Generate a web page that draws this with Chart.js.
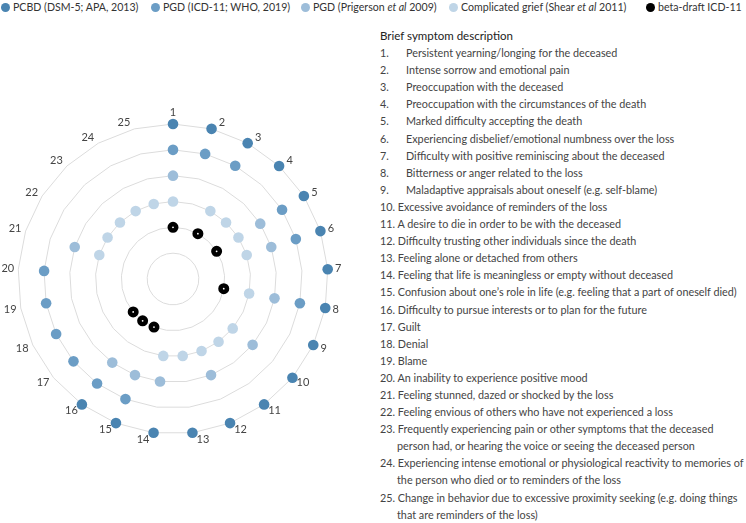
<!DOCTYPE html>
<html>
<head>
<meta charset="utf-8">
<script src="https://cdn.jsdelivr.net/npm/chart.js@4"></script>
<style>
    body { margin: 0; width: 746px; height: 523px; background: #fff; position: relative; overflow: hidden;
           font-family: "Lato", "Open Sans", sans-serif; color: #444; }
    .legend-item { position: absolute; top: 0; font-size: 10.6px; line-height: 15px; white-space: nowrap; color: #333; }
    .legend-item .dot { position: absolute; left: -12.5px; top: 3px; width: 9px; height: 9px; border-radius: 50%; }
    #chartBox { position: absolute; left: 0; top: 99px; width: 346px; height: 360px; }
    #desc { position: absolute; left: 380px; top: 27px; font-size: 10.8px; line-height: 17.1px; white-space: nowrap; }
    #desc h4 { margin: 0; font-weight: normal; font-size: 11.5px; color: #222; }
    #desc div { padding-left: 17px; text-indent: -17px; }
    #desc .n1 { display: inline-block; width: 26px; text-indent: 0; }
</style>
</head>
<body>
<div class="legend-item" style="left:13px"><span class="dot" style="background:#4a84b1"></span>PCBD (DSM-5; APA, 2013)</div>
<div class="legend-item" style="left:163px"><span class="dot" style="background:#6b9dc5"></span>PGD (ICD-11; WHO, 2019)</div>
<div class="legend-item" style="left:313px"><span class="dot" style="background:#9dbdd9"></span>PGD (Prigerson <i>et al</i> 2009)</div>
<div class="legend-item" style="left:461px"><span class="dot" style="background:#bfd5e7"></span>Complicated grief (Shear <i>et al</i> 2011)</div>
<div class="legend-item" style="left:658px"><span class="dot" style="background:#000"></span>beta-draft ICD-11</div>

<div id="chartBox"><canvas id="symptomChart"></canvas></div>
<div id="desc"><h4>Brief symptom description</h4></div>

<script>
const symptoms = ["1", "2", "3", "4", "5", "6", "7", "8", "9", "10", "11", "12", "13",
    "14", "15", "16", "17", "18", "19", "20", "21", "22", "23", "24", "25"];

// ring level of each criteria set, null = symptom not included
const pcbd      = [6, 6, 6, 6, 6, 6, 6, 6, 6, 6, 6, 6, 6, 6, 6, 6, null, null, null, null, null, null, null, null, null];
const pgdIcd11  = [5, 5, 5, null, 5, 5, null, 5, null, null, null, null, null, null, 5, 5, 5, 5, 5, 5, null, null, null, null, null];
const pgdPrig   = [4, null, null, null, 4, 4, null, 4, null, 4, null, 4, null, 4, 4, 4, null, null, null, null, 4, null, null, null, null];
const compGrief = [3, null, 3, 3, 3, 3, null, 3, null, 3, 3, 3, 3, 3, null, null, null, null, null, null, 3, 3, 3, 3, 3];
const betaDraft = [2, null, 2, null, 2, null, null, 2, null, null, null, null, null, null, 2, 2, 2, null, null, null, null, null, null, null, null];

const descriptions = [
    "Persistent yearning/longing for the deceased",
    "Intense sorrow and emotional pain",
    "Preoccupation with the deceased",
    "Preoccupation with the circumstances of the death",
    "Marked difficulty accepting the death",
    "Experiencing disbelief/emotional numbness over the loss",
    "Difficulty with positive reminiscing about the deceased",
    "Bitterness or anger related to the loss",
    "Maladaptive appraisals about oneself (e.g. self-blame)",
    "Excessive avoidance of reminders of the loss",
    "A desire to die in order to be with the deceased",
    "Difficulty trusting other individuals since the death",
    "Feeling alone or detached from others",
    "Feeling that life is meaningless or empty without deceased",
    "Confusion about one\u2019s role in life (e.g. feeling that a part of oneself died)",
    "Difficulty to pursue interests or to plan for the future",
    "Guilt",
    "Denial",
    "Blame",
    "An inability to experience positive mood",
    "Feeling stunned, dazed or shocked by the loss",
    "Feeling envious of others who have not experienced a loss",
    "Frequently experiencing pain or other symptoms that the deceased<br>person had, or hearing the voice or seeing the deceased person",
    "Experiencing intense emotional or physiological reactivity to memories of<br>the person who died or to reminders of the loss",
    "Change in behavior due to excessive proximity seeking (e.g. doing things<br>that are reminders of the loss)"
];

// symptom numbers sit beside the outer ring spoke, pushed sideways
const numberLabels = {
    id: "numberLabels",
    afterDraw(chart) {
        const r = chart.scales.r;
        const c = chart.ctx;
        c.save();
        c.font = "11px Lato";
        c.fillStyle = "#444";
        c.textAlign = "center";
        c.textBaseline = "middle";
        chart.data.labels.forEach(function (label, i) {
            const p = r.getPointPosition(i, r.drawingArea);
            const a = r.getIndexAngle(i);
            let dx = Math.sign(Math.round(Math.sin(a) * 1000)) * 10.5;
            let dy = -7 * Math.cos(a);
            if (i === 0) dy = -12;
            c.fillText(label, p.x + dx, p.y + dy);
        });
        c.restore();
    }
};

document.addEventListener("DOMContentLoaded", function () {
    const desc = document.getElementById("desc");
    descriptions.forEach(function (text, i) {
        const row = document.createElement("div");
        const num = (i + 1) + ".";
        row.innerHTML = (i < 9 ? '<span class="n1">' + num + '</span>' : num + " ") + text;
        desc.appendChild(row);
    });

    const ctx = document.getElementById("symptomChart").getContext("2d");

    function series(label, data, color) {
        return {
            label: label,
            data: data,
            showLine: false,
            fill: false,
            borderWidth: 0,
            pointRadius: 5.3,
            pointBorderWidth: 0,
            pointBackgroundColor: color,
            pointBorderColor: color
        };
    }

    const beta = series("beta-draft ICD-11", betaDraft, "#fff");
    beta.pointRadius = 3.2;
    beta.pointBorderWidth = 4.6;
    beta.pointBorderColor = "#000";

    new Chart(ctx, {
        type: "radar",
        data: {
            labels: symptoms,
            datasets: [
                series("PCBD (DSM-5; APA, 2013)", pcbd, "#4a84b1"),
                series("PGD (ICD-11; WHO, 2019)", pgdIcd11, "#6b9dc5"),
                series("PGD (Prigerson et al 2009)", pgdPrig, "#9dbdd9"),
                series("Complicated grief (Shear et al 2011)", compGrief, "#bfd5e7"),
                beta
            ]
        },
        plugins: [numberLabels],
        options: {
            responsive: true,
            maintainAspectRatio: false,
            animation: false,
            layout: { padding: { left: 18, right: 17, top: 25, bottom: 24 } },
            plugins: {
                legend: { display: false },
                tooltip: { enabled: false }
            },
            scales: {
                r: {
                    min: 0,
                    max: 6,
                    ticks: { display: false, stepSize: 1 },
                    angleLines: { display: false },
                    grid: { color: "#dcdcdc", lineWidth: 1 },
                    pointLabels: { display: false }
                }
            }
        }
    });
});
</script>
</body>
</html>
